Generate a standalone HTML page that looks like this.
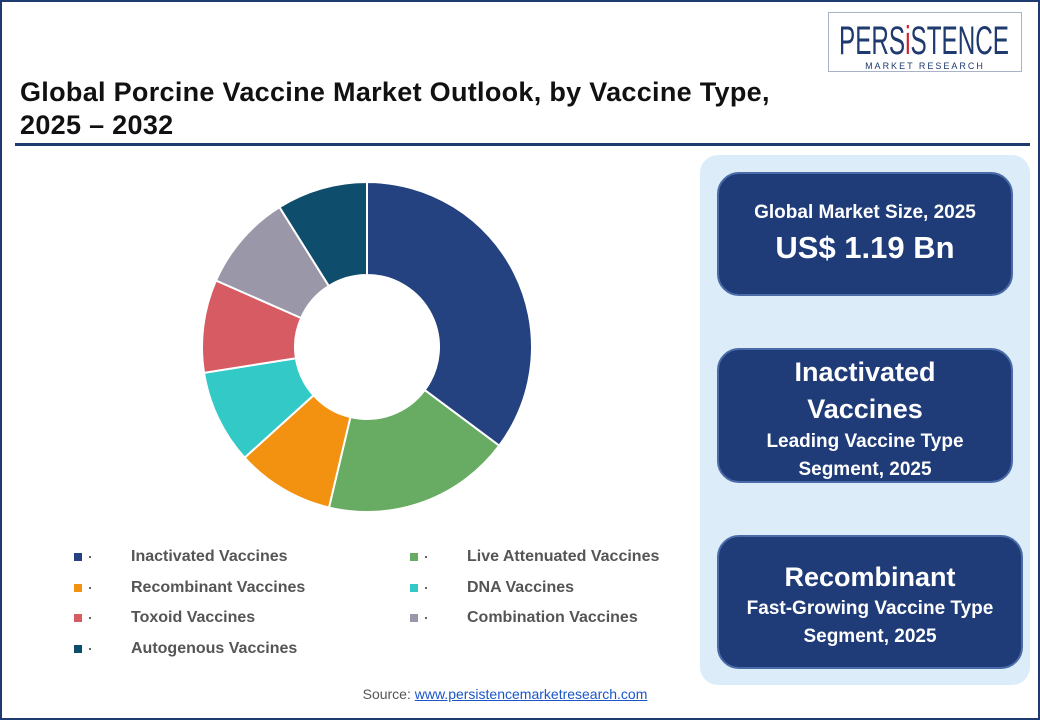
<!DOCTYPE html><html><head><style>
body{margin:0;width:1040px;height:720px;overflow:hidden;background:#fff;font-family:"Liberation Sans",sans-serif}
.frame{position:absolute;left:0;top:0;width:1036px;height:716px;border:2px solid #1f3a6e;}
.title{position:absolute;left:20px;top:76px;font-size:27px;font-weight:bold;color:#111;line-height:33px;letter-spacing:0.3px}
.rule{position:absolute;left:15px;top:143px;width:1015px;height:3px;background:#1f3a6e}
.panel{position:absolute;left:700px;top:155px;width:330px;height:530px;background:#dcecf8;border-radius:18px}
.box{position:absolute;background:#1f3c78;border:2px solid #4a6aa8;border-radius:22px;color:#fff;text-align:center;font-weight:bold;box-sizing:border-box}
.leg{position:absolute;font-size:16px;color:#555;font-weight:bold}
.sq{position:absolute;width:8px;height:8px}
.dot{position:absolute;width:2px;height:2px;background:#666}
</style></head><body>
<div class="frame"></div>
<div style="position:absolute;left:828px;top:12px;width:192px;height:58px;border:1px solid #a9b3c8"></div>
<svg style="position:absolute;left:828px;top:12px" width="192" height="58"><text x="11" y="42" font-family="Liberation Sans" font-size="40" fill="#1f3a6e" textLength="170" lengthAdjust="spacingAndGlyphs">PERS<tspan fill="#d0202a">i</tspan>STENCE</text></svg>
<div style="position:absolute;left:830px;top:61px;width:190px;text-align:center;font-size:9px;color:#1f3a6e;letter-spacing:2px">MARKET RESEARCH</div>
<div class="title">Global Porcine Vaccine Market Outlook, by Vaccine Type,<br>2025 – 2032</div>
<div class="rule"></div>
<svg style="position:absolute;left:0;top:0" width="1040" height="720" id="s"></svg>
<div class="panel"></div>
<div class="box" style="left:717px;top:172px;width:296px;height:124px;padding-top:28px"><div style="font-size:19px">Global Market Size, 2025</div><div style="font-size:31px;margin-top:6px">US$ 1.19 Bn</div></div>
<div class="box" style="left:717px;top:348px;width:296px;height:135px;padding-top:4px"><div style="font-size:27px;line-height:37px">Inactivated<br>Vaccines</div><div style="font-size:19px;line-height:28px">Leading Vaccine Type<br>Segment, 2025</div></div>
<div class="box" style="left:717px;top:535px;width:306px;height:134px;padding-top:22px"><div style="font-size:27px;line-height:36px">Recombinant</div><div style="font-size:19px;line-height:28px">Fast-Growing Vaccine Type<br>Segment, 2025</div></div>
<div style="position:absolute;left:0;width:1010px;top:686px;text-align:center;font-size:14px;color:#555">Source: <span style="color:#1a56c8;text-decoration:underline">www.persistencemarketresearch.com</span></div>
<script>
var d=[[35.2,"#23427f"],[18.5,"#68ab62"],[9.6,"#f39210"],[9.2,"#33c9c6"],[9.1,"#d75b62"],[9.5,"#9a97a8"],[8.9,"#0e4d6c"]];
var cx=367,cy=347,R=165,r=72,a=0,h="";
function p(rad,t){return [cx+rad*Math.sin(t),cy-rad*Math.cos(t)];}
d.forEach(function(s){var b=a+s[0]/100*2*Math.PI,l=(b-a)>Math.PI?1:0;
var p1=p(R,a),p2=p(R,b),p3=p(r,b),p4=p(r,a);
h+='<path d="M'+p1+' A'+R+','+R+' 0 '+l+' 1 '+p2+' L'+p3+' A'+r+','+r+' 0 '+l+' 0 '+p4+' Z" fill="'+s[1]+'" stroke="#fff" stroke-width="2"/>';a=b;});
document.getElementById('s').innerHTML=h;
var L=[["Inactivated Vaccines","#23427f",0,0],["Live Attenuated Vaccines","#68ab62",1,0],["Recombinant Vaccines","#f39210",0,1],["DNA Vaccines","#33c9c6",1,1],["Toxoid Vaccines","#d75b62",0,2],["Combination Vaccines","#9a97a8",1,2],["Autogenous Vaccines","#0e4d6c",0,3]];
L.forEach(function(e){var x=e[2]?410:74,y=557+e[3]*30.7;
document.body.insertAdjacentHTML('beforeend','<div class="sq" style="left:'+x+'px;top:'+(y-4)+'px;background:'+e[1]+'"></div><div class="dot" style="left:'+(x+15)+'px;top:'+(y-1)+'px"></div><div class="leg" style="left:'+(x+57)+'px;top:'+(y-9)+'px">'+e[0]+'</div>');});
</script>
</body></html>
